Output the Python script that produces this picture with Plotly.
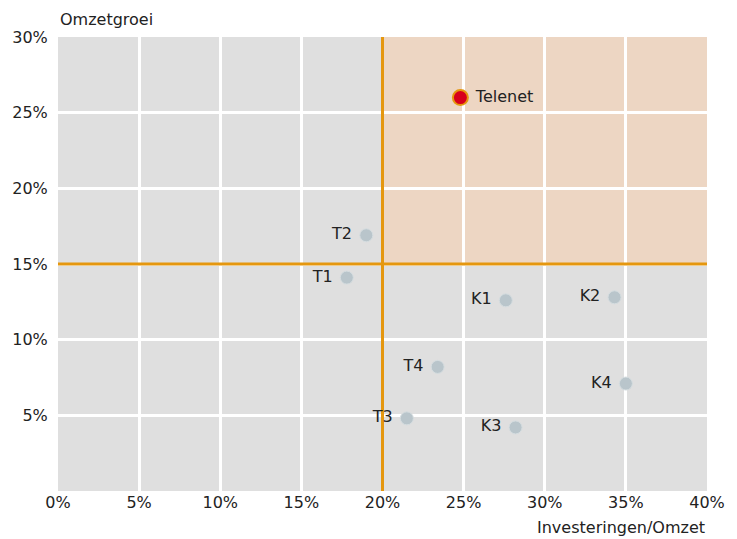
import plotly.graph_objects as go

# Peers: investment as share of revenue vs. revenue growth (in %)
peer_names = ["T1", "T2", "T3", "T4", "K1", "K2", "K3", "K4"]
peer_invest = [17.8, 19.0, 21.5, 23.4, 27.6, 34.3, 28.2, 35.0]
peer_growth = [14.1, 16.9, 4.8, 8.2, 12.6, 12.8, 4.2, 7.1]

focus_name = ["Telenet"]
focus_invest = [24.8]
focus_growth = [26.0]

# Quadrant thresholds
invest_threshold = 20
growth_threshold = 15

x_ticks = [0, 5, 10, 15, 20, 25, 30, 35, 40]
y_ticks = [5, 10, 15, 20, 25, 30]

FONT = "DejaVu Sans, sans-serif"
ORANGE = "#E5970F"
TEXT = "#222222"
FS = 16

fig = go.Figure()

fig.add_trace(go.Scatter(
    x=peer_invest, y=peer_growth, text=[n + "\u00a0" for n in peer_names],
    mode="markers+text", textposition="middle left",
    marker=dict(size=13, color="#B9C5CB", line=dict(color="#D5DDE0", width=1)),
    textfont=dict(size=FS, color=TEXT, family=FONT),
    hoverinfo="skip", cliponaxis=False,
))

fig.add_trace(go.Scatter(
    x=focus_invest, y=focus_growth, text=["\u00a0" + n for n in focus_name],
    mode="markers+text", textposition="middle right",
    marker=dict(size=15, color="#D7001C", line=dict(color=ORANGE, width=2)),
    textfont=dict(size=FS, color=TEXT, family=FONT),
    hoverinfo="skip", cliponaxis=False,
))

# Highlighted quadrant: high investment, high growth
fig.add_shape(type="rect", xref="x", yref="y",
              x0=invest_threshold, x1=40, y0=growth_threshold, y1=30,
              fillcolor="#EDD6C3", line=dict(width=0), layer="below")
# Threshold lines
fig.add_shape(type="line", xref="x", yref="y",
              x0=invest_threshold, x1=invest_threshold, y0=0, y1=30,
              line=dict(color=ORANGE, width=3), layer="between")
fig.add_shape(type="line", xref="x", yref="y",
              x0=0, x1=40, y0=growth_threshold, y1=growth_threshold,
              line=dict(color=ORANGE, width=3), layer="between")

fig.update_layout(
    width=737, height=539,
    margin=dict(l=57, r=26, t=37, b=48),
    paper_bgcolor="white", plot_bgcolor="#DFDFDF",
    showlegend=False,
    font=dict(family=FONT, size=FS, color=TEXT),
    xaxis=dict(range=[0, 40], tickvals=x_ticks,
               ticktext=[f"{v}%" for v in x_ticks],
               showgrid=True, gridcolor="white", gridwidth=3,
               zeroline=False, showline=False, ticks="", ticklen=0,
               tickfont=dict(size=FS), fixedrange=True),
    yaxis=dict(range=[0, 30], tickvals=y_ticks,
               ticktext=[f"{v}%" for v in y_ticks],
               showgrid=True, gridcolor="white", gridwidth=3,
               zeroline=False, showline=False, ticks="outside", ticklen=6,
               tickcolor="rgba(0,0,0,0)",
               tickfont=dict(size=FS), fixedrange=True),
    annotations=[
        dict(text="Omzetgroei", xref="paper", yref="paper", x=0, y=1,
             xanchor="left", yanchor="bottom", yshift=6, showarrow=False,
             font=dict(size=FS, color=TEXT)),
        dict(text="Investeringen/Omzet", xref="paper", yref="paper", x=1, y=0,
             xanchor="right", yanchor="top", yshift=-25, showarrow=False,
             font=dict(size=FS, color=TEXT)),
    ],
)

fig.write_html("out.html")
